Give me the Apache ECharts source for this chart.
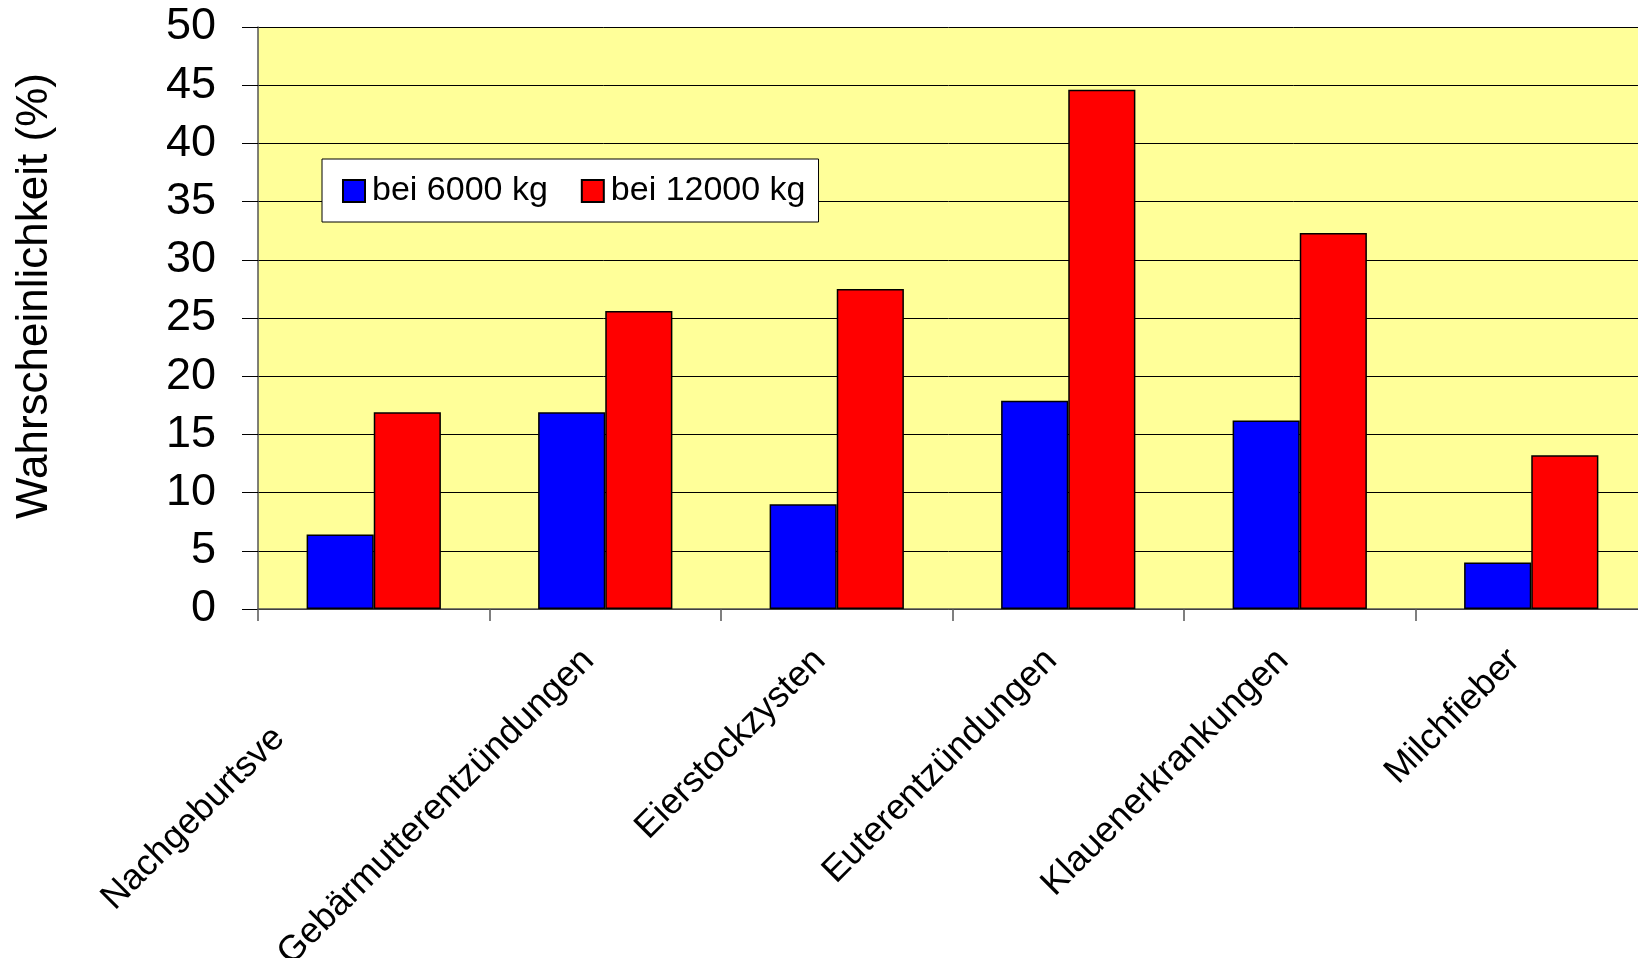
<!DOCTYPE html>
<html>
<head>
<meta charset="utf-8">
<script src="https://cdn.jsdelivr.net/npm/echarts@6/dist/echarts.min.js"></script>
<style>
  html, body { margin: 0; padding: 0; background: #ffffff; }
  #chart { width: 1638px; height: 958px; }
</style>
</head>
<body>
<div id="chart"></div>
<script>
// Disease categories (x axis)
const categories = [
  'Nachgeburtsverhalten',
  'Gebärmutterentzündungen',
  'Eierstockzysten',
  'Euterentzündungen',
  'Klauenerkrankungen',
  'Milchfieber'
];
// Number of leading characters shown per category label (null = whole label)
const labelVisibleChars = [13, null, null, null, null, null];

// Series names
const seriesNames = ['bei 6000 kg', 'bei 12000 kg'];

// Probability in % at 6000 kg and 12000 kg milk yield
const values6000 = [6.4, 16.9, 9.0, 17.9, 16.2, 4.0];
const values12000 = [16.9, 25.6, 27.5, 44.6, 32.3, 13.2];

// Value axis range
const yMin = 0;
const yMax = 50;
const yStep = 5;

const yTitle = 'Wahrscheinlichkeit (%)';

const FONT = '"Liberation Sans", Arial, Helvetica, sans-serif';
const CAT_FONT_SIZE = 36;
const CAT_PAD_RIGHT = 24;

// Width of the hidden tail of a cut label, so the visible part keeps its place
const measureCtx = document.createElement('canvas').getContext('2d');
measureCtx.font = CAT_FONT_SIZE + 'px "Liberation Sans"';
const cutRich = {};
labelVisibleChars.forEach(function (n, i) {
  if (n != null) {
    const tail = categories[i].slice(n);
    cutRich['cut' + i] = {
      fontSize: CAT_FONT_SIZE,
      fontFamily: FONT,
      color: '#000',
      padding: [0, Math.round(measureCtx.measureText(tail).width), 0, 0]
    };
  }
});

const chart = echarts.init(document.getElementById('chart'), null, { renderer: 'canvas' });

chart.setOption({
  animation: false,
  backgroundColor: '#ffffff',
  textStyle: { fontFamily: FONT },
  grid: {
    left: 258,
    top: 27,
    right: -9,
    bottom: 349,
    containLabel: false,
    outerBoundsMode: 'none',
    show: true,
    backgroundColor: '#ffff99',
    borderWidth: 0
  },
  legend: {
    left: 322,
    top: 159,
    orient: 'horizontal',
    data: seriesNames,
    icon: 'rect',
    itemWidth: 22,
    itemHeight: 22,
    itemGap: 33,
    padding: [15, 13, 14, 20],
    backgroundColor: '#ffffff',
    borderColor: '#000000',
    borderWidth: 1,
    textStyle: {
      fontFamily: FONT,
      fontSize: 34,
      color: '#000',
      padding: [0, 0, 0, 2]
    }
  },
  xAxis: {
    type: 'category',
    data: categories,
    boundaryGap: true,
    axisLine: { show: true, lineStyle: { color: '#555', width: 1.5 } },
    axisTick: { show: true, length: 12, lineStyle: { color: '#555', width: 1.5 } },
    axisLabel: {
      interval: 0,
      rotate: 45,
      margin: 29,
      padding: [0, CAT_PAD_RIGHT, 0, 0],
      fontSize: CAT_FONT_SIZE,
      fontFamily: FONT,
      color: '#000',
      rich: cutRich,
      formatter: function (value, index) {
        const n = labelVisibleChars[index];
        if (n == null) return value;
        return '{cut' + index + '|' + value.slice(0, n) + '}';
      }
    },
    splitLine: { show: false }
  },
  yAxis: {
    type: 'value',
    min: yMin,
    max: yMax,
    interval: yStep,
    name: yTitle,
    nameLocation: 'middle',
    nameRotate: 90,
    nameGap: 201,
    nameTextStyle: {
      fontFamily: FONT,
      fontSize: 44,
      color: '#000',
      padding: [0, 0, 0, 44]
    },
    axisLine: { show: true, lineStyle: { color: '#555', width: 1.5 } },
    axisTick: { show: true, length: 16, lineStyle: { color: '#000', width: 1 } },
    axisLabel: {
      margin: 42,
      fontSize: 45,
      fontFamily: FONT,
      color: '#000'
    },
    splitLine: { show: true, lineStyle: { color: '#000', width: 1 } }
  },
  series: [
    {
      name: seriesNames[0],
      type: 'bar',
      data: values6000,
      barGap: '0%',
      barCategoryGap: '42%',
      itemStyle: { color: '#0000ff', borderColor: '#000', borderWidth: 1.5 }
    },
    {
      name: seriesNames[1],
      type: 'bar',
      data: values12000,
      barGap: '0%',
      barCategoryGap: '42%',
      itemStyle: { color: '#ff0000', borderColor: '#000', borderWidth: 1.5 }
    }
  ]
});
</script>
</body>
</html>
